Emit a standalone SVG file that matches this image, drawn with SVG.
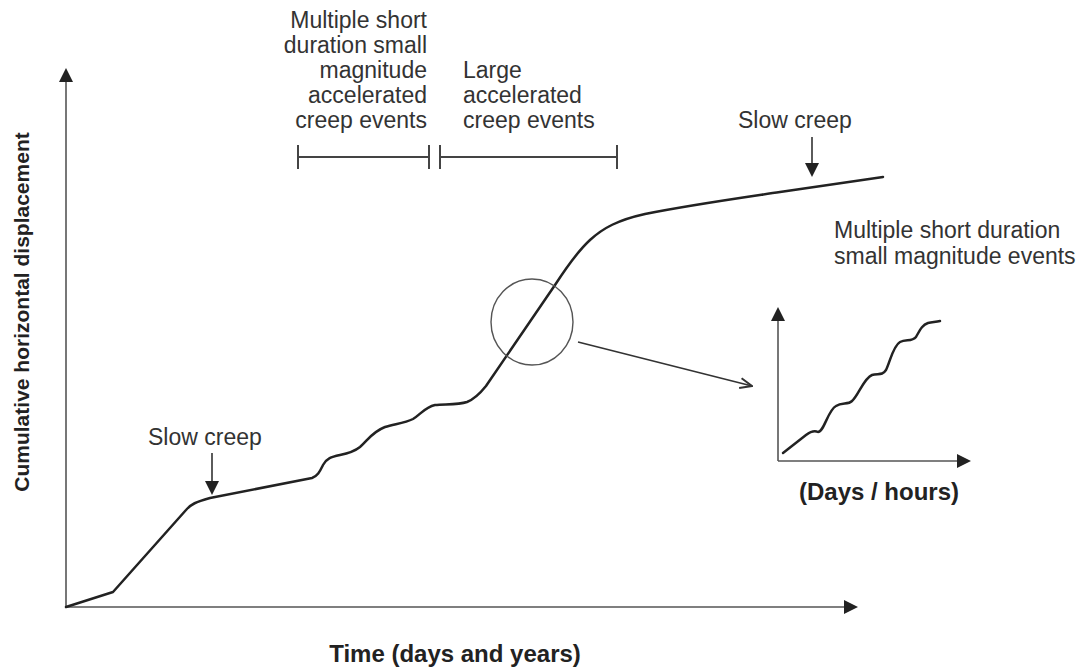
<svg xmlns="http://www.w3.org/2000/svg" width="1089" height="670" viewBox="0 0 1089 670">
<style>
.lbl{font-family:"Liberation Sans",Arial,sans-serif;font-size:23px;fill:#333}
.bold{font-family:"Liberation Sans",Arial,sans-serif;font-weight:bold;fill:#222}
.axis{stroke:#555;stroke-width:1.6;fill:none}
.curve{stroke:#222;stroke-width:2.5;fill:none;stroke-linejoin:round;stroke-linecap:round}
.bar{stroke:#444;stroke-width:2;fill:none}
.conn{stroke:#333;stroke-width:1.6;fill:none}
</style>
<defs>
<marker id="tri" viewBox="0 0 14 14" refX="0" refY="7" markerWidth="14" markerHeight="14" markerUnits="userSpaceOnUse" orient="auto">
<path d="M0,0 L14,7 L0,14 Z" fill="#222"/>
</marker>
<marker id="open" viewBox="0 0 14 12" refX="13" refY="6" markerWidth="14" markerHeight="12" markerUnits="userSpaceOnUse" orient="auto">
<path d="M1,1 L13,6 L1,11" fill="none" stroke="#333" stroke-width="2"/>
</marker>
</defs>
<rect width="1089" height="670" fill="#fff"/>

<g id="main-axes">
<line class="axis" x1="66" y1="607" x2="66" y2="82" marker-end="url(#tri)"/>
<line class="axis" x1="66" y1="607" x2="844" y2="607" marker-end="url(#tri)"/>
<text class="bold" font-size="21" text-anchor="middle" transform="translate(29,312) rotate(-90)">Cumulative horizontal displacement</text>
<text class="bold" font-size="24" x="455" y="662" text-anchor="middle">Time (days and years)</text>
</g>

<g id="main-curve">
<path class="curve" d="M66,607 L113,592 L186,510 C191,504 196,502 210,498 L312,478 C318,476 320,471 323,465 C327,458 331,457 340,455 C350,453 355,451 360,447 C368,440 372,432 385,427 C395,424 405,423 413,419 C420,415 425,407 435,405 C445,404 458,405 467,402 C472,400 478,396 486,386 L555,285 C568,265 578,251 590,240 C603,228 618,220 645,214 C690,205 740,198 780,192 L883,177"/>
</g>

<g id="small-events-label">
<text class="lbl" text-anchor="end" x="427" y="28">Multiple short</text>
<text class="lbl" text-anchor="end" x="427" y="53">duration small</text>
<text class="lbl" text-anchor="end" x="427" y="78">magnitude</text>
<text class="lbl" text-anchor="end" x="427" y="103">accelerated</text>
<text class="lbl" text-anchor="end" x="427" y="128">creep events</text>
<path class="bar" d="M298,157 L429,157 M298,145 L298,169 M429,145 L429,169"/>
</g>

<g id="large-events-label">
<text class="lbl" x="463" y="78">Large</text>
<text class="lbl" x="463" y="103">accelerated</text>
<text class="lbl" x="463" y="128">creep events</text>
<path class="bar" d="M440,157 L617,157 M440,145 L440,169 M617,145 L617,169"/>
</g>

<g id="slow-creep-left">
<text class="lbl" x="148" y="445">Slow creep</text>
</g>

<g id="slow-creep-right">
<text class="lbl" x="738" y="128">Slow creep</text>
</g>

<g id="zoom-circle">
<ellipse cx="532" cy="322" rx="41" ry="43" fill="none" stroke="#555" stroke-width="1.4"/>
</g>

<g id="inset">
<text class="lbl" x="834" y="238">Multiple short duration</text>
<text class="lbl" x="834" y="264">small magnitude events</text>
<line class="axis" x1="778" y1="461" x2="778" y2="321" marker-end="url(#tri)"/>
<line class="axis" x1="778" y1="461" x2="957" y2="461" marker-end="url(#tri)"/>
<path class="curve" d="M783,453 L806,435 C810,432 814,430 818,432 C824,432 828,410 836,406 C842,402 848,405 852,401 C858,396 864,378 872,375 C878,373 882,376 886,370 C890,362 893,346 900,342 C906,339 912,342 916,337 C920,330 922,325 928,323 C933,322 936,322 940,321"/>
<text class="bold" font-size="24" x="879" y="500" text-anchor="middle">(Days / hours)</text>
</g>

<g id="connectors">
<line class="conn" x1="212" y1="453" x2="212" y2="481" marker-end="url(#tri)"/>
<line class="conn" x1="812" y1="137" x2="812" y2="163" marker-end="url(#tri)"/>
<line class="conn" x1="578" y1="342" x2="752" y2="386" marker-end="url(#open)"/>
</g>
</svg>
